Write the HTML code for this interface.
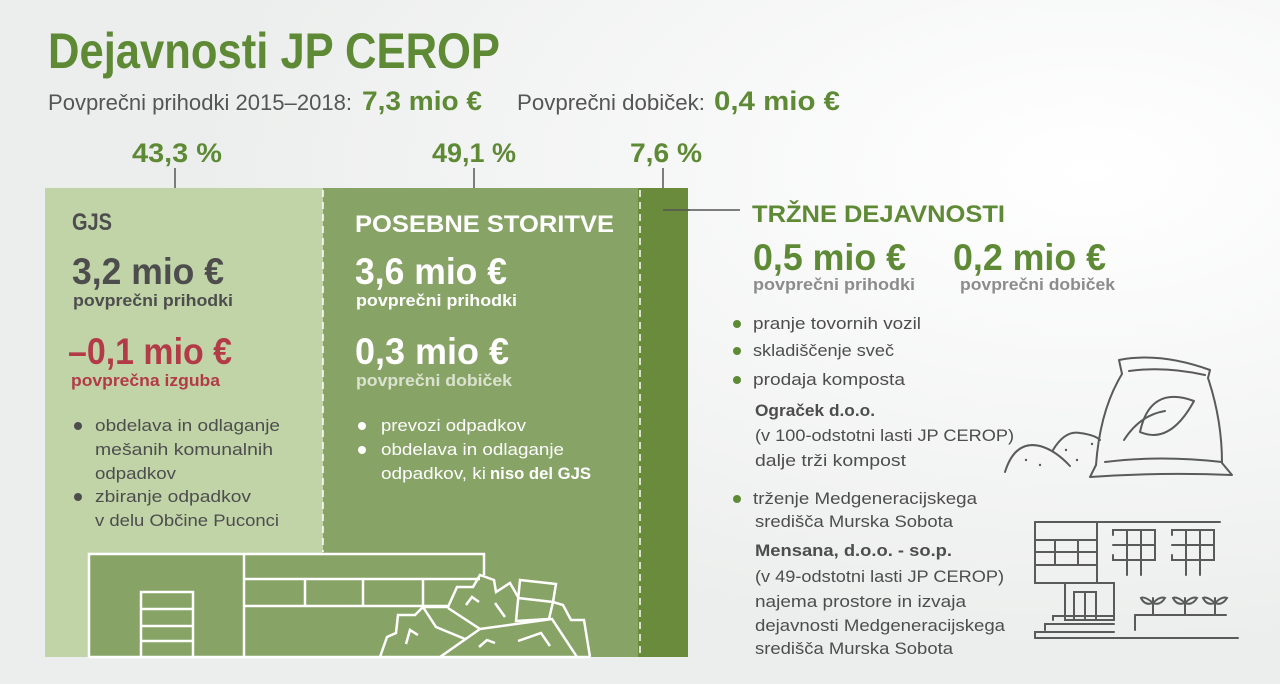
<!DOCTYPE html>
<html><head><meta charset="utf-8"><style>
html,body{margin:0;padding:0;width:1280px;height:684px;overflow:hidden;background:#f0f1f1}
svg{display:block}
text{font-family:"Liberation Sans",sans-serif}
</style></head><body>
<svg width="1280" height="684" viewBox="0 0 1280 684" xmlns="http://www.w3.org/2000/svg">
<defs>
<radialGradient id="bg" cx="0.85" cy="0.25" r="0.7">
<stop offset="0" stop-color="#ffffff"/><stop offset="1" stop-color="#eceeed"/>
</radialGradient>
</defs>
<rect width="1280" height="684" fill="url(#bg)"/>

<text x="48" y="68" font-size="50" font-weight="bold" fill="#5e8a35" textLength="452" lengthAdjust="spacingAndGlyphs">Dejavnosti JP CEROP</text>
<text x="48" y="110" font-size="22" fill="#555" textLength="304" lengthAdjust="spacingAndGlyphs">Povprečni prihodki 2015–2018:</text>
<text x="362" y="110" font-size="27" font-weight="bold" fill="#5e8a35" textLength="120" lengthAdjust="spacingAndGlyphs">7,3 mio €</text>
<text x="517" y="110" font-size="22" fill="#555" textLength="188" lengthAdjust="spacingAndGlyphs">Povprečni dobiček:</text>
<text x="714" y="110" font-size="27" font-weight="bold" fill="#5e8a35" textLength="126" lengthAdjust="spacingAndGlyphs">0,4 mio €</text>

<text x="132" y="162" font-size="27" font-weight="bold" fill="#5e8a35" textLength="90" lengthAdjust="spacingAndGlyphs">43,3 %</text>
<text x="432" y="162" font-size="27" font-weight="bold" fill="#5e8a35" textLength="84" lengthAdjust="spacingAndGlyphs">49,1 %</text>
<text x="630" y="162" font-size="27" font-weight="bold" fill="#5e8a35" textLength="72" lengthAdjust="spacingAndGlyphs">7,6 %</text>
<g stroke="#555" stroke-width="1.5">
<line x1="175" y1="168" x2="175" y2="188"/>
<line x1="474" y1="168" x2="474" y2="188"/>
<line x1="663" y1="168" x2="663" y2="188"/>
<line x1="663" y1="210" x2="740" y2="210"/>
</g>

<rect x="45" y="188" width="278" height="469" fill="#c1d4a7"/>
<rect x="323" y="188" width="315" height="469" fill="#87a366"/>
<rect x="638" y="188" width="50" height="469" fill="#6a8b3c"/>
<line x1="663" y1="210" x2="690" y2="210" stroke="#555" stroke-width="1.5"/>
<g stroke="#fff" stroke-width="1.5" stroke-dasharray="7,5">
<line x1="323" y1="190" x2="323" y2="552"/>
<line x1="640" y1="190" x2="640" y2="657"/>
</g>

<text x="72" y="230" font-size="24" font-weight="bold" fill="#4d4d4d" textLength="40" lengthAdjust="spacingAndGlyphs">GJS</text>
<text x="72" y="284" font-size="37" font-weight="bold" fill="#4d4d4d" textLength="152" lengthAdjust="spacingAndGlyphs">3,2 mio €</text>
<text x="73" y="306" font-size="17" font-weight="bold" fill="#4d4d4d" textLength="160" lengthAdjust="spacingAndGlyphs">povprečni prihodki</text>
<text x="68" y="364" font-size="37" font-weight="bold" fill="#b33a47" textLength="164" lengthAdjust="spacingAndGlyphs">–0,1 mio €</text>
<text x="71" y="386" font-size="17" font-weight="bold" fill="#b33a47" textLength="149" lengthAdjust="spacingAndGlyphs">povprečna izguba</text>
<g fill="#4d4d4d">
<circle cx="78" cy="426" r="4"/><circle cx="78" cy="497" r="4"/>
</g>
<g font-size="17" fill="#4d4d4d">
<text x="95" y="431" textLength="185" lengthAdjust="spacingAndGlyphs">obdelava in odlaganje</text>
<text x="95" y="455" textLength="178" lengthAdjust="spacingAndGlyphs">mešanih komunalnih</text>
<text x="95" y="479" textLength="81" lengthAdjust="spacingAndGlyphs">odpadkov</text>
<text x="95" y="502" textLength="156" lengthAdjust="spacingAndGlyphs">zbiranje odpadkov</text>
<text x="95" y="526" textLength="184" lengthAdjust="spacingAndGlyphs">v delu Občine Puconci</text>
</g>

<text x="355" y="232" font-size="24" font-weight="bold" fill="#fff" textLength="259" lengthAdjust="spacingAndGlyphs">POSEBNE STORITVE</text>
<text x="355" y="284" font-size="37" font-weight="bold" fill="#fff" textLength="152" lengthAdjust="spacingAndGlyphs">3,6 mio €</text>
<text x="356" y="306" font-size="17" font-weight="bold" fill="#fff" textLength="161" lengthAdjust="spacingAndGlyphs">povprečni prihodki</text>
<text x="355" y="364" font-size="37" font-weight="bold" fill="#fff" textLength="154" lengthAdjust="spacingAndGlyphs">0,3 mio €</text>
<text x="356" y="386" font-size="17" font-weight="bold" fill="#dbe2cf" textLength="156" lengthAdjust="spacingAndGlyphs">povprečni dobiček</text>
<g fill="#fff">
<circle cx="362" cy="426" r="4"/><circle cx="362" cy="450" r="4"/>
</g>
<g font-size="17" fill="#fff">
<text x="381" y="431" textLength="145" lengthAdjust="spacingAndGlyphs">prevozi odpadkov</text>
<text x="381" y="455" textLength="183" lengthAdjust="spacingAndGlyphs">obdelava in odlaganje</text>
<text x="381" y="479" textLength="105" lengthAdjust="spacingAndGlyphs">odpadkov, ki</text>
<text x="490" y="479" font-weight="bold" textLength="101" lengthAdjust="spacingAndGlyphs">niso del GJS</text>
</g>

<!-- warehouse -->
<rect x="89" y="554" width="395" height="103" fill="#87a366"/>
<g fill="none" stroke="#fff" stroke-width="2.5" stroke-linejoin="miter">
<polyline points="89,657 89,554 484,554 484,575"/>
<line x1="89" y1="657" x2="380" y2="657"/>
<line x1="244" y1="554" x2="244" y2="657"/>
<line x1="244" y1="579" x2="480" y2="579"/>
<line x1="244" y1="606" x2="423" y2="606"/>
<line x1="305" y1="579" x2="305" y2="606"/>
<line x1="363" y1="579" x2="363" y2="606"/>
<line x1="423" y1="579" x2="423" y2="606"/>
<line x1="423" y1="606" x2="448" y2="606"/>
<polyline points="141,657 141,592 193,592 193,657"/>
<line x1="141" y1="609" x2="193" y2="609"/>
<line x1="141" y1="626" x2="193" y2="626"/>
<line x1="141" y1="641" x2="193" y2="641"/>
<polyline points="380,657 387,637 396,633 398,615 415,615 423,607 436,607 448,607 457,587 473,587 480,575 494,580 496,592 510,583 518,597"/>
<polygon points="520,580 556,584 553,602 549,619 516,621"/>
<line x1="518" y1="598" x2="553" y2="602"/>
<polyline points="553,602 563,605 571,620 584,620 590,657"/>
<polyline points="423,607 436,627 465,639"/>
<polyline points="448,608 480,629 552,619 577,657"/>
<line x1="440" y1="657" x2="480" y2="629"/>
<line x1="380" y1="657" x2="590" y2="657"/>
<polyline points="406,644 410,630 418,635"/>
<polyline points="466,605 472,597 479,602"/>
<line x1="495" y1="603" x2="505" y2="617"/>
<polyline points="479,647 487,640 495,643"/>
<polyline points="518,641 541,633 550,646"/>
</g>

<text x="752" y="222" font-size="24" font-weight="bold" fill="#5e8a35" textLength="253" lengthAdjust="spacingAndGlyphs">TRŽNE DEJAVNOSTI</text>
<text x="753" y="270" font-size="37" font-weight="bold" fill="#5e8a35" textLength="153" lengthAdjust="spacingAndGlyphs">0,5 mio €</text>
<text x="953" y="270" font-size="37" font-weight="bold" fill="#5e8a35" textLength="153" lengthAdjust="spacingAndGlyphs">0,2 mio €</text>
<text x="753" y="290" font-size="17" font-weight="bold" fill="#8c8c8c" textLength="162" lengthAdjust="spacingAndGlyphs">povprečni prihodki</text>
<text x="960" y="290" font-size="17" font-weight="bold" fill="#8c8c8c" textLength="155" lengthAdjust="spacingAndGlyphs">povprečni dobiček</text>
<g fill="#5e8a35">
<circle cx="737" cy="324" r="4"/><circle cx="737" cy="351" r="4"/><circle cx="737" cy="380" r="4"/><circle cx="737" cy="499" r="4"/>
</g>
<g font-size="17" fill="#4d4d4d">
<text x="753" y="329" textLength="168" lengthAdjust="spacingAndGlyphs">pranje tovornih vozil</text>
<text x="753" y="356" textLength="141" lengthAdjust="spacingAndGlyphs">skladiščenje sveč</text>
<text x="753" y="385" textLength="152" lengthAdjust="spacingAndGlyphs">prodaja komposta</text>
<text x="755" y="416" font-weight="bold" textLength="120" lengthAdjust="spacingAndGlyphs">Ograček d.o.o.</text>
<text x="755" y="441" textLength="259" lengthAdjust="spacingAndGlyphs">(v 100-odstotni lasti JP CEROP)</text>
<text x="755" y="466" textLength="151" lengthAdjust="spacingAndGlyphs">dalje trži kompost</text>
<text x="753" y="504" textLength="224" lengthAdjust="spacingAndGlyphs">trženje Medgeneracijskega</text>
<text x="755" y="527" textLength="198" lengthAdjust="spacingAndGlyphs">središča Murska Sobota</text>
<text x="755" y="556" font-weight="bold" textLength="197" lengthAdjust="spacingAndGlyphs">Mensana, d.o.o. - so.p.</text>
<text x="755" y="582" textLength="249" lengthAdjust="spacingAndGlyphs">(v 49-odstotni lasti JP CEROP)</text>
<text x="755" y="607" textLength="211" lengthAdjust="spacingAndGlyphs">najema prostore in izvaja</text>
<text x="755" y="631" textLength="250" lengthAdjust="spacingAndGlyphs">dejavnosti Medgeneracijskega</text>
<text x="755" y="654" textLength="198" lengthAdjust="spacingAndGlyphs">središča Murska Sobota</text>
</g>

<g fill="none" stroke="#5a5a5a" stroke-width="2" stroke-linecap="round" stroke-linejoin="round">
<path d="M1119,360 Q1160,352 1210,370 L1208,378 Q1222,420 1222,463 L1232,475 Q1160,472 1090,477 L1096,465 Q1100,410 1122,374 Z"/>
<path d="M1129,371 Q1165,366 1205,375"/>
<path d="M1105,462 Q1160,455 1222,462"/>
<path d="M1194,401 Q1150,385 1140,432 Q1170,445 1194,401 Z"/>
<path d="M1124,440 Q1140,415 1165,411"/>
<path d="M1005,472 Q1015,440 1040,446 Q1055,450 1070,466"/>
<path d="M1053,450 Q1065,430 1080,433 Q1095,435 1100,440"/>
</g>
<g fill="#5a5a5a"><circle cx="1026" cy="460" r="1.2"/><circle cx="1040" cy="465" r="1.2"/><circle cx="1066" cy="450" r="1.2"/><circle cx="1077" cy="460" r="1.2"/><circle cx="1092" cy="444" r="1.2"/></g>

<g fill="none" stroke="#5a5a5a" stroke-width="2" stroke-linecap="round">
<line x1="1035" y1="522" x2="1220" y2="522"/>
<polyline points="1035,522 1035,583 1097,583 1097,522"/>
<line x1="1035" y1="540" x2="1097" y2="540"/>
<line x1="1035" y1="552" x2="1097" y2="552"/>
<line x1="1035" y1="565" x2="1097" y2="565"/>
<line x1="1055" y1="540" x2="1055" y2="552"/>
<line x1="1078" y1="540" x2="1078" y2="552"/>
<line x1="1055" y1="565" x2="1055" y2="552"/>
<line x1="1078" y1="565" x2="1078" y2="552"/>
<polyline points="1065,583 1065,620 1114,620 1114,583 1097,583"/>
<rect x="1074" y="592" width="22" height="28"/>
<line x1="1085" y1="592" x2="1085" y2="620"/>
<polyline points="1053,620 1053,616 1114,616"/>
<polyline points="1045,630 1045,624 1114,624"/>
<polyline points="1035,638 1035,632 1114,632"/>
<line x1="1035" y1="638" x2="1238" y2="638"/>
<line x1="1135" y1="630" x2="1135" y2="615"/>
<line x1="1135" y1="615" x2="1226" y2="615"/>
<path d="M1113,535 L1113,530 L1155,530 L1155,560 L1113,560 L1113,555 M1113,545 L1155,545 M1127,530 L1127,575 M1141,530 L1141,575"/>
<path d="M1172,535 L1172,530 L1214,530 L1214,560 L1172,560 L1172,555 M1172,545 L1214,545 M1186,530 L1186,575 M1200,530 L1200,575"/>
<path d="M1153,615 L1153,598 M1153,603 Q1145,596 1141,598 Q1145,606 1153,603 M1153,603 Q1160,596 1165,598 Q1160,606 1153,603"/>
<path d="M1185,615 L1185,598 M1185,603 Q1177,596 1173,598 Q1177,606 1185,603 M1185,603 Q1192,596 1197,598 Q1192,606 1185,603"/>
<path d="M1215,615 L1215,598 M1215,603 Q1207,596 1203,598 Q1207,606 1215,603 M1215,603 Q1222,596 1227,598 Q1222,606 1215,603"/>
</g>
</svg>
</body></html>
